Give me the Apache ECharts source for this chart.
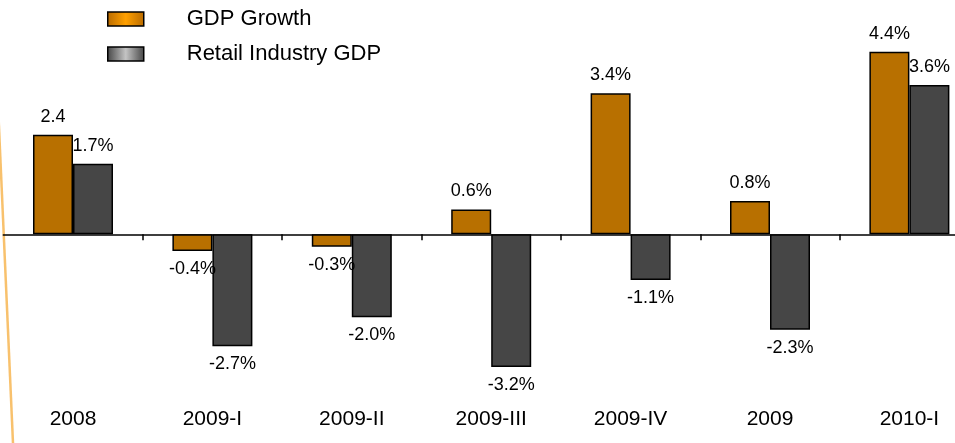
<!DOCTYPE html>
<html>
<head>
<meta charset="utf-8">
<script src="https://cdn.jsdelivr.net/npm/echarts@6/dist/echarts.min.js"></script>
<style>
html,body{margin:0;padding:0;background:#fff;}
#chart{width:955px;height:443px;}
</style>
</head>
<body>
<div id="chart"></div>
<script>
var categories = ['2008', '2009-I', '2009-II', '2009-III', '2009-IV', '2009', '2010-I'];
var seriesNames = ['GDP Growth', 'Retail Industry GDP'];
var gdpGrowth = [2.4, -0.4, -0.3, 0.6, 3.4, 0.8, 4.4];
var retailGdp = [1.7, -2.7, -2.0, -3.2, -1.1, -2.3, 3.6];
var gdpLabels = ['2.4', '-0.4%', '-0.3%', '0.6%', '3.4%', '0.8%', '4.4%'];
var retailLabels = ['1.7%', '-2.7%', '-2.0%', '-3.2%', '-1.1%', '-2.3%', '3.6%'];

var FONT = '"Liberation Sans", Arial, sans-serif';

function makeData(values, labels) {
  return values.map(function (v, i) {
    return {
      value: v,
      label: { position: v >= 0 ? 'top' : 'bottom', formatter: labels[i] }
    };
  });
}

var chart = echarts.init(document.getElementById('chart'), null, { renderer: 'canvas' });

var orangeGrad = new echarts.graphic.LinearGradient(0, 0, 1, 0, [
  { offset: 0, color: '#b86a00' },
  { offset: 0.5, color: '#ffa000' },
  { offset: 1, color: '#b86a00' }
]);
var greyGrad = new echarts.graphic.LinearGradient(0, 0, 1, 0, [
  { offset: 0, color: '#444444' },
  { offset: 0.5, color: '#c4c4c4' },
  { offset: 1, color: '#444444' }
]);

chart.setOption({
  animation: false,
  backgroundColor: '#ffffff',
  legend: {
    orient: 'vertical',
    left: 102,
    top: 3,
    itemWidth: 36,
    itemHeight: 14,
    itemGap: 13,
    icon: 'rect',
    textStyle: { fontFamily: FONT, fontSize: 22, color: '#000', padding: [0, 0, 0, 38] },
    data: [
      { name: seriesNames[0], itemStyle: { color: orangeGrad, borderColor: '#000', borderWidth: 1.5 } },
      { name: seriesNames[1], itemStyle: { color: greyGrad, borderColor: '#000', borderWidth: 1.5 } }
    ]
  },
  grid: { left: 3.3, width: 975.8, top: 26.8, height: 373.5, containLabel: false, outerBoundsMode: 'none' },
  graphic: [
    {
      type: 'line',
      shape: { x1: -4, y1: 60, x2: 13, y2: 443 },
      style: { stroke: 'rgba(246,172,60,0.75)', lineWidth: 2.5 },
      silent: true
    }
  ],
  xAxis: [
    {
      type: 'category',
      data: categories,
      position: 'bottom',
      axisLine: { onZero: true, lineStyle: { color: '#000', width: 1.5 } },
      axisTick: {
        show: true,
        length: 6,
        lineStyle: { color: '#000', width: 1.5 },
        interval: function (index) { return index > 0; }
      },
      axisLabel: { show: false },
      splitLine: { show: false }
    },
    {
      type: 'category',
      data: categories,
      position: 'bottom',
      axisLine: { show: false, onZero: false },
      axisTick: { show: false },
      axisLabel: { show: true, margin: 8, fontFamily: FONT, fontSize: 21, color: '#000' },
      splitLine: { show: false }
    }
  ],
  yAxis: {
    type: 'value',
    min: -4,
    max: 5,
    show: false,
    splitLine: { show: false }
  },
  series: [
    {
      name: seriesNames[0],
      type: 'bar',
      xAxisIndex: 0,
      barWidth: 40,
      barGap: '0%',
      itemStyle: { color: '#b87000', borderColor: '#000', borderWidth: 1.5 },
      label: { show: true, distance: 9, fontFamily: FONT, fontSize: 18, color: '#000' },
      data: makeData(gdpGrowth, gdpLabels)
    },
    {
      name: seriesNames[1],
      type: 'bar',
      xAxisIndex: 0,
      barWidth: 40,
      barGap: '0%',
      itemStyle: { color: '#464646', borderColor: '#000', borderWidth: 1.5 },
      label: { show: true, distance: 9, fontFamily: FONT, fontSize: 18, color: '#000' },
      data: makeData(retailGdp, retailLabels)
    }
  ]
});
</script>
</body>
</html>
